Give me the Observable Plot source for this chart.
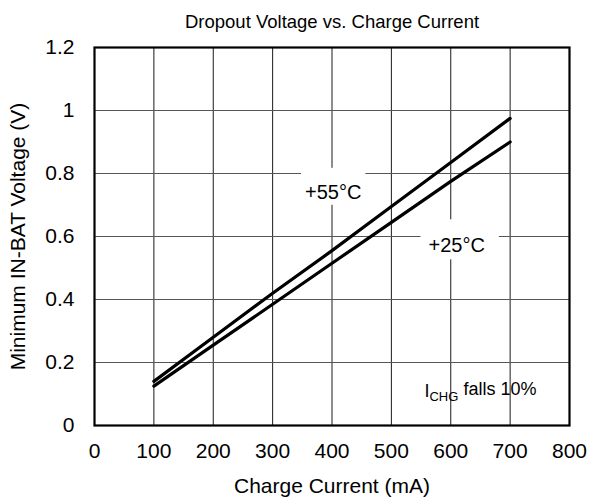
<!DOCTYPE html>
<html>
<head>
<meta charset="utf-8">
<script src="https://cdn.jsdelivr.net/npm/d3@7"></script>
<script src="https://cdn.jsdelivr.net/npm/@observablehq/plot@0.6"></script>
<style>
  html, body { margin: 0; padding: 0; background: #fff; }
  svg { display: block; }
</style>
</head>
<body>
<div id="chart"></div>
<script>
const currents = [100, 200, 300, 400, 500, 600, 700];
const v55 = [0.14, 0.28, 0.42, 0.555, 0.695, 0.835, 0.975];
const v25 = [0.125, 0.255, 0.385, 0.515, 0.645, 0.775, 0.90];
const seriesNames = ["+55°C", "+25°C"];
const xTicks = [0, 100, 200, 300, 400, 500, 600, 700, 800];
const yTicks = [0, 0.2, 0.4, 0.6, 0.8, 1, 1.2];
const labelX = [402, 610];
const labelY = [0.74, 0.57];
const noteText = ["I", "CHG", " falls 10%"];
const noteX = [650];
const noteY = [0.11];
const title = "Dropout Voltage vs. Charge Current";
const xTitle = "Charge Current (mA)";
const yTitle = "Minimum IN-BAT Voltage (V)";

const data = [];
currents.forEach((c, i) => {
  data.push({series: seriesNames[0], x: c, y: v55[i]});
  data.push({series: seriesNames[1], x: c, y: v25[i]});
});
const labels = seriesNames.map((s, i) => ({text: s, x: labelX[i], y: labelY[i]}));
const notes = [{text: noteText.join(""), x: noteX[0], y: noteY[0]}];

const font = "'Liberation Sans', Arial, sans-serif";

const chart = Plot.plot({
  width: 590,
  height: 502,
  marginLeft: 94,
  marginRight: 21,
  marginTop: 47,
  marginBottom: 77,
  style: {fontFamily: font, fontSize: "20px", background: "#fff", color: "#000"},
  x: {domain: [0, 800], label: null},
  y: {domain: [0, 1.2], label: null},
  marks: [
    Plot.gridX(xTicks, {stroke: "#1a1a1a", strokeOpacity: 1, strokeWidth: 1}),
    Plot.gridY(yTicks, {stroke: "#555", strokeOpacity: 1, strokeWidth: 1}),
    Plot.line(data, {x: "x", y: "y", z: "series", stroke: "#000", strokeWidth: 3.2}),
    Plot.text(labels, {x: "x", y: "y", text: "text", fontSize: 20, fill: "#000", className: "boxed"}),
    Plot.text(notes, {x: "x", y: "y", text: "text", fontSize: 18, fill: "#000", className: "note"}),
    Plot.frame({stroke: "#000", strokeWidth: 2.2}),
    Plot.axisX(xTicks, {tickSize: 0, tickPadding: 18, fontSize: 21, label: null}),
    Plot.axisY(yTicks, {tickSize: 0, tickPadding: 20, fontSize: 21, label: null, tickFormat: d => String(+d.toFixed(1))}),
    Plot.text([title], {frameAnchor: "top", dy: -33, text: d => d, fontSize: 18.5}),
    Plot.text([xTitle], {frameAnchor: "bottom", dy: 67, text: d => d, fontSize: 21}),
    Plot.text([yTitle], {frameAnchor: "left", dx: -76, rotate: -90, textAnchor: "middle", text: d => d, fontSize: 21})
  ]
});

document.getElementById("chart").appendChild(chart);

// white boxes behind the temperature labels
const pads = [[4, 4, 13, 2], [8, 14, 15, 3]]; // left, right, top, bottom
d3.select(chart).selectAll("g.boxed text").each(function(_, i) {
  const bb = this.getBBox();
  const p = pads[i] || pads[0];
  d3.select(this.parentNode).insert("rect", () => this)
    .attr("transform", this.getAttribute("transform"))
    .attr("x", bb.x - p[0]).attr("y", bb.y - p[2])
    .attr("width", bb.width + p[0] + p[1]).attr("height", bb.height + p[2] + p[3])
    .attr("fill", "#fff");
});

// subscript for I_CHG
d3.select(chart).selectAll("g.note text").each(function() {
  const t = d3.select(this);
  t.text(null);
  t.append("tspan").text(noteText[0]);
  t.append("tspan").attr("dy", "0.35em").attr("font-size", 13).text(noteText[1]);
  t.append("tspan").attr("dy", "-0.35em").text(noteText[2]);
});
</script>
</body>
</html>
